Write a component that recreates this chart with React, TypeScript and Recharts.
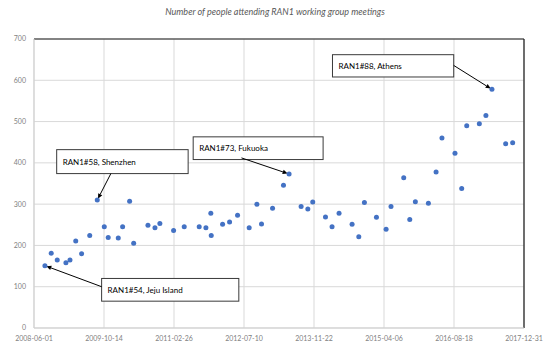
import React from 'react';
import {
  ScatterChart,
  Scatter,
  XAxis,
  YAxis,
  CartesianGrid,
  ReferenceLine,
  ReferenceArea,
} from 'recharts';

// Days since 2008-06-01 of each RAN1 meeting
const meetingDay = [
  78, 123, 166, 228, 257, 298, 340, 398, 452, 502, 530, 602, 633, 683, 712, 814, 864, 899, 997, 1073,
  1180, 1228, 1263, 1266, 1347, 1397, 1454, 1537, 1592, 1625, 1704, 1782, 1822, 1908, 1956, 1991, 2082,
  2129, 2179, 2272, 2320, 2360, 2446, 2515, 2550, 2641, 2684, 2724, 2817, 2872, 2914, 3007, 3055, 3091,
  3181, 3228, 3271, 3369, 3419,
];
// Number of attendees
const attendance = [
  151, 181, 165, 158, 165, 211, 180, 224, 310, 245, 219, 218, 245, 307, 205, 249, 243, 253, 236, 245,
  245, 243, 278, 224, 251, 257, 273, 243, 300, 252, 290, 346, 373, 294, 288, 305, 269, 245, 278, 251,
  221, 304, 268, 239, 294, 364, 263, 306, 302, 378, 460, 423, 338, 490, 495, 515, 578, 446, 449,
];

const xTickDays = [0, 500, 1000, 1500, 2000, 2500, 3000, 3500];
const xTickLabels = [
  '2008-06-01', '2009-10-14', '2011-02-26', '2012-07-10',
  '2013-11-22', '2015-04-06', '2016-08-18', '2017-12-31',
];
const yTicks = [0, 100, 200, 300, 400, 500, 600, 700];

const annotationLabels = ['RAN1#54, Jeju Island', 'RAN1#58, Shenzhen', 'RAN1#73, Fukuoka', 'RAN1#88, Athens'];
const annotationTargets = [0, 8, 32, 56];

// callout box placement (data coordinates) and arrow start
const calloutLayout = [
  { x1: 483, x2: 1463, y1: 65, y2: 120, fromX: 483, fromY: 100 },
  { x1: 162, x2: 1101, y1: 374, y2: 432, fromX: 549, fromY: 374 },
  { x1: 1137, x2: 2065, y1: 408, y2: 463, fromX: 1482, fromY: 412 },
  { x1: 2132, x2: 2998, y1: 608, y2: 662, fromX: 2998, fromY: 636 },
];

const data = meetingDay.map((d, i) => ({ day: d, value: attendance[i] }));

const FONT = 'Lato, "Open Sans", sans-serif';

const Dot = (p: any) => <circle cx={p.cx} cy={p.cy} r={2.5} fill="#4472C4" />;

const makeBox = (label: string) => (p: any) => (
  <g>
    <rect x={p.x} y={p.y} width={p.width} height={p.height} fill="#fff" stroke="#3a3a3a" strokeWidth={1} />
    <text
      x={p.x + 6}
      y={p.y + p.height / 2}
      dominantBaseline="central"
      fontFamily={FONT}
      fontSize={8}
      fill="#000"
    >
      {label}
    </text>
  </g>
);

const Arrow = (p: any) => {
  const { x1, y1, x2, y2 } = p;
  const dx = x2 - x1;
  const dy = y2 - y1;
  const len = Math.sqrt(dx * dx + dy * dy) || 1;
  const ux = dx / len;
  const uy = dy / len;
  const tx = x2 - ux * 1.5;
  const ty = y2 - uy * 1.5;
  const hl = 5;
  const hw = 2.3;
  const bx = tx - ux * hl;
  const by = ty - uy * hl;
  const pts = `${tx},${ty} ${bx - uy * hw},${by + ux * hw} ${bx + uy * hw},${by - ux * hw}`;
  return (
    <g>
      <line x1={x1} y1={y1} x2={bx} y2={by} stroke="#000" strokeWidth={1} />
      <polygon points={pts} fill="#000" />
    </g>
  );
};

export default function App() {
  return (
    <div style={{ position: 'absolute', left: 0, top: 0, width: 550, height: 351, background: '#fff' }}>
      <div
        style={{
          position: 'absolute',
          top: 6,
          left: 0,
          width: 550,
          textAlign: 'center',
          fontFamily: FONT,
          fontStyle: 'italic',
          fontSize: 9,
          color: '#595959',
        }}
      >
        Number of people attending RAN1 working group meetings
      </div>
      <ScatterChart width={550} height={351} margin={{ top: 39, right: 26, bottom: 3, left: 8 }}>
        <CartesianGrid stroke="#d9d9d9" strokeWidth={1} />
        <XAxis
          type="number"
          dataKey="day"
          domain={[0, 3500]}
          ticks={xTickDays}
          tickFormatter={(v: number) => xTickLabels[xTickDays.indexOf(v)]}
          tickLine={false}
          axisLine={{ stroke: '#cfcfcf' }}
          height={20}
          interval={0}
          tick={{ fontFamily: FONT, fontSize: 7, fill: '#7f7f7f' }}
        />
        <YAxis
          type="number"
          dataKey="value"
          domain={[0, 700]}
          ticks={yTicks}
          tickLine={false}
          axisLine={{ stroke: '#cfcfcf' }}
          width={26}
          interval={0}
          tick={{ fontFamily: FONT, fontSize: 7, fill: '#7f7f7f' }}
        />
        <ReferenceLine y={700} stroke="#1a1a1a" strokeWidth={1.2} />
        <ReferenceLine x={3500} stroke="#1a1a1a" strokeWidth={1.2} />
        <Scatter data={data} shape={Dot} isAnimationActive={false} />
        {calloutLayout.map((c, i) => (
          <ReferenceLine
            key={'a' + i}
            segment={[
              { x: c.fromX, y: c.fromY },
              { x: meetingDay[annotationTargets[i]], y: attendance[annotationTargets[i]] },
            ]}
            shape={Arrow}
          />
        ))}
        {calloutLayout.map((c, i) => (
          <ReferenceArea
            key={'b' + i}
            x1={c.x1}
            x2={c.x2}
            y1={c.y1}
            y2={c.y2}
            shape={makeBox(annotationLabels[i])}
          />
        ))}
      </ScatterChart>
    </div>
  );
}
